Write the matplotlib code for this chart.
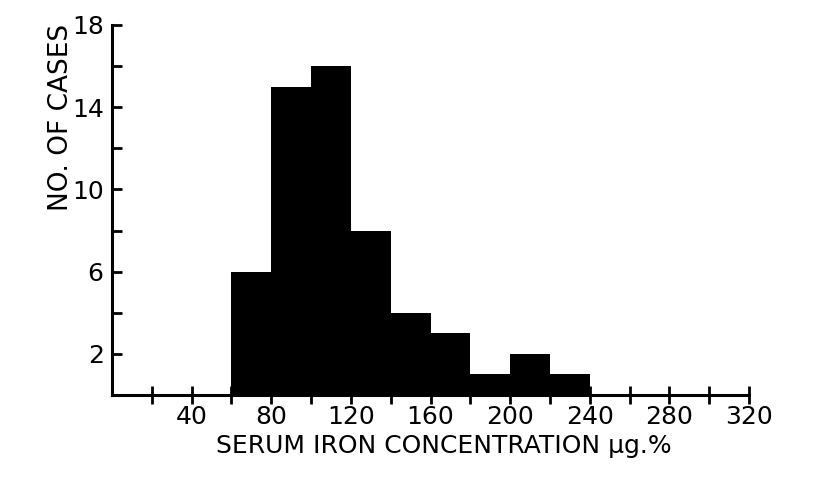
import matplotlib
matplotlib.use("Agg")
import matplotlib.pyplot as plt
import numpy as np

# Data
bin_left = [60, 80, 100, 120, 140, 160, 180, 200, 220]
counts = [6, 15, 16, 8, 4, 3, 1, 2, 1]
bin_width = 20
x_major = [40, 80, 120, 160, 200, 240, 280, 320]
x_minor = list(range(20, 321, 20))
y_major = [2, 6, 10, 14, 18]
y_minor = list(range(2, 19, 2))
xlabel = "SERUM IRON CONCENTRATION µg.%"
ylabel = "NO. OF CASES"

plt.rcParams['font.family'] = ['DejaVu Sans']

fig = plt.figure(figsize=(8.23, 4.87), dpi=100)
ax = fig.add_axes([112/823, 1-395/487, (749-112)/823, (395-25)/487])

ax.bar(bin_left, counts, width=bin_width, align='edge', color='black', edgecolor='black', linewidth=0)

ax.set_xlim(0, 320)
ax.set_ylim(0, 18)
for s in ['top', 'right']:
    ax.spines[s].set_visible(False)
for s in ['left', 'bottom']:
    ax.spines[s].set_linewidth(2.2)

ax.set_xticks(x_major)
ax.set_xticks(x_minor, minor=True)
ax.set_yticks(y_major)
ax.set_yticks(y_minor, minor=True)
ax.tick_params(axis='x', which='both', direction='inout', length=13, width=2, labelsize=18, pad=1)
ax.tick_params(axis='y', which='both', direction='in', length=7, width=2, labelsize=18, pad=6)

fig.text(61/823, 1-117/487, ylabel, rotation=90, ha='center', va='center', fontsize=19)
fig.text(444/823, 1-446/487, xlabel, ha='center', va='center', fontsize=18)

fig.savefig("out.png", dpi=100)
